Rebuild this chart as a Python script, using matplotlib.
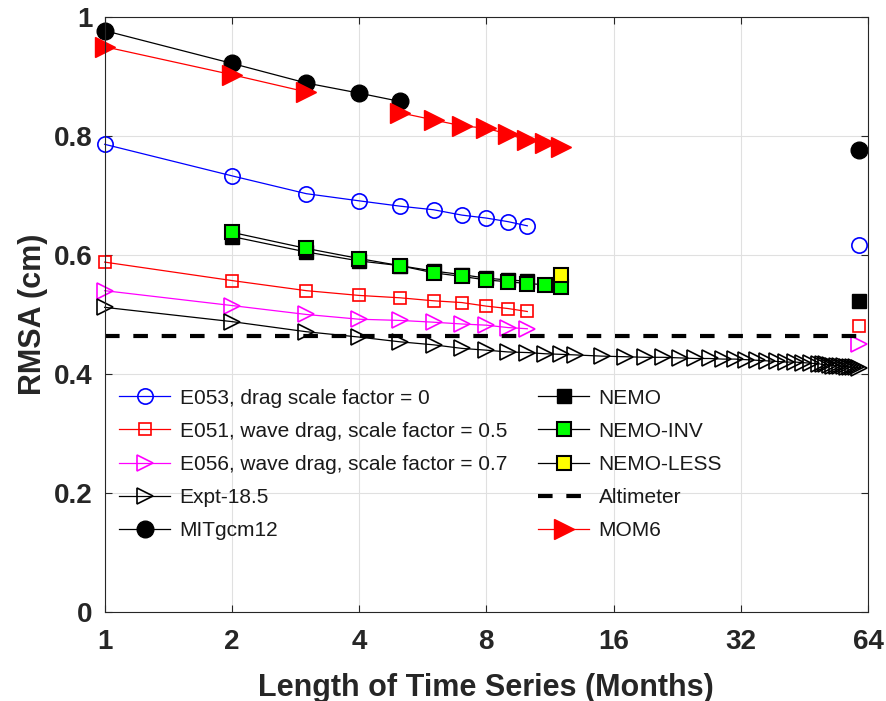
import numpy as np
import matplotlib
matplotlib.use("Agg")
import matplotlib.pyplot as plt

plt.rcParams['font.family'] = ['Liberation Sans', 'DejaVu Sans']

# months for the short runs
m10 = [1, 2, 3, 4, 5, 6, 7, 8, 9, 10]
m_end = [61]

e053 = [0.786, 0.733, 0.703, 0.691, 0.682, 0.676, 0.667, 0.662, 0.656, 0.649]
e053_end = [0.616]
e051 = [0.588, 0.557, 0.540, 0.532, 0.528, 0.523, 0.520, 0.514, 0.510, 0.505]
e051_end = [0.481]
e056 = [0.540, 0.515, 0.500, 0.492, 0.490, 0.487, 0.484, 0.482, 0.478, 0.476]
e056_end = [0.450]

expt_m = [1, 2, 3, 4, 5, 6, 7, 8, 9, 10, 11, 12, 13,
          15, 17, 19, 21, 23, 25, 27, 29, 31, 33, 35, 37, 39, 41, 43, 45, 47,
          49, 50, 51, 52, 53, 54, 55, 56, 57, 58, 59, 60, 61]
expt = [0.512, 0.488, 0.471, 0.462, 0.454, 0.449, 0.443, 0.440, 0.437, 0.436,
        0.434, 0.433, 0.432,
        0.430, 0.429, 0.428, 0.428, 0.427, 0.426, 0.426, 0.425, 0.425, 0.424,
        0.423, 0.422, 0.421, 0.420, 0.420, 0.419, 0.418,
        0.417, 0.416, 0.416, 0.415, 0.414, 0.414, 0.413, 0.413, 0.412, 0.412,
        0.411, 0.411, 0.410]

mit_m = [1, 2, 3, 4, 5]
mit = [0.977, 0.922, 0.889, 0.872, 0.858]
mit_end = [0.776]

nemo_m = [2, 3, 4, 5, 6, 7, 8, 9, 10]
nemo = [0.631, 0.605, 0.590, 0.582, 0.573, 0.567, 0.561, 0.558, 0.556]
nemo_end = [0.523]

inv_m = [2, 3, 4, 5, 6, 7, 8, 9, 10, 11, 12]
nemo_inv = [0.638, 0.611, 0.594, 0.582, 0.570, 0.564, 0.558, 0.555, 0.552, 0.550, 0.547]

less_m = [12]
nemo_less = [0.566]

altimeter = 0.464

mom_m = [1, 2, 3, 4, 5, 6, 7, 8, 9, 10, 11, 12]
mom6 = [0.950, 0.903, 0.874, np.nan, 0.839, 0.827, 0.817, 0.813, 0.803, 0.793, 0.788, 0.782]

fig = plt.figure(figsize=(8.87, 7.01), dpi=100)
ax = fig.add_axes([0.118, 0.127, 0.8606, 0.8488])

lw = 0.9
mew = 1.2
h = {}
h['e053'], = ax.plot(m10, e053, '-o', color='blue', mfc='none', mec='blue', ms=11, mew=mew, lw=lw)
ax.plot(m_end, e053_end, 'o', mfc='none', mec='blue', ms=11, mew=mew)
h['e051'], = ax.plot(m10, e051, '-s', color='red', mfc='none', mec='red', ms=9, mew=mew, lw=lw)
ax.plot(m_end, e051_end, 's', mfc='none', mec='red', ms=9, mew=mew)
h['e056'], = ax.plot(m10, e056, '->', color='magenta', mfc='none', mec='magenta', ms=12, mew=mew, lw=lw)
ax.plot(m_end, e056_end, '>', mfc='none', mec='magenta', ms=12, mew=mew)
h['expt'], = ax.plot(expt_m, expt, '->', color='black', mfc='none', mec='black', ms=12, mew=mew, lw=lw)
h['mit'], = ax.plot(mit_m, mit, '-o', color='black', mfc='black', mec='black', ms=12, lw=lw)
ax.plot(m_end, mit_end, 'o', mfc='black', mec='black', ms=12)
h['nemo'], = ax.plot(nemo_m, nemo, '-s', color='black', mfc='black', mec='black', ms=10, lw=lw)
ax.plot(m_end, nemo_end, 's', mfc='black', mec='black', ms=10)
h['inv'], = ax.plot(inv_m, nemo_inv, '-s', color='black', mfc=(0, 1, 0), mec='black', ms=10, mew=1.5, lw=lw)
h['less'], = ax.plot(less_m, nemo_less, '-s', color='black', mfc=(1, 1, 0), mec='black', ms=10, mew=1.5, lw=lw)
h['alt'], = ax.plot([1, 64], [altimeter, altimeter], '--', color='black', lw=3, dashes=(3.5, 3.3))
h['mom'], = ax.plot(mom_m, mom6, '->', color='red', mfc='red', mec='red', ms=14, lw=lw)

for ln in ax.lines:
    ln.set_clip_on(False)

ax.set_xscale('log', base=2)
ax.set_xlim(1, 64)
ax.set_ylim(0, 1)
xt = [1, 2, 4, 8, 16, 32, 64]
ax.set_xticks(xt)
ax.set_xticklabels([str(v) for v in xt])
ax.minorticks_off()
yt = [0, 0.2, 0.4, 0.6, 0.8, 1]
ax.set_yticks(yt)
ax.set_yticklabels(['0', '0.2', '0.4', '0.6', '0.8', '1'])
ax.tick_params(direction='in', length=5, width=0.8, top=True, right=True,
               labelsize=20, colors='0.15')
ax.tick_params(axis='x', pad=12)
ax.tick_params(axis='y', pad=9)
for lab in ax.get_xticklabels() + ax.get_yticklabels():
    lab.set_fontweight('bold')
    lab.set_color('0.15')
ax.grid(True, color='0.88', lw=0.8)
ax.set_axisbelow(True)
for sp in ax.spines.values():
    sp.set_color('0.15')
    sp.set_linewidth(0.8)

ax.set_xlabel('Length of Time Series (Months)', fontsize=22, fontweight='bold', color='0.15', labelpad=13)
ax.set_ylabel('RMSA (cm)', fontsize=22, fontweight='bold', color='0.15', labelpad=4)

order = ['e053', 'e051', 'e056', 'expt', 'mit', 'nemo', 'inv', 'less', 'alt', 'mom']
labels = ['E053, drag scale factor = 0', 'E051, wave drag, scale factor = 0.5',
          'E056, wave drag, scale factor = 0.7', 'Expt-18.5', 'MITgcm12',
          'NEMO', 'NEMO-INV', 'NEMO-LESS', 'Altimeter', 'MOM6']
leg = ax.legend([h[k] for k in order], labels, ncol=2, loc='upper left',
                bbox_to_anchor=(0.0, 0.40), frameon=False, fontsize=15,
                handlelength=2.45, handletextpad=0.45, labelspacing=0.68,
                columnspacing=1.5, numpoints=1, borderaxespad=0.3)
for t in leg.get_texts():
    t.set_color('0.1')

fig.savefig('out.png', dpi=100)
